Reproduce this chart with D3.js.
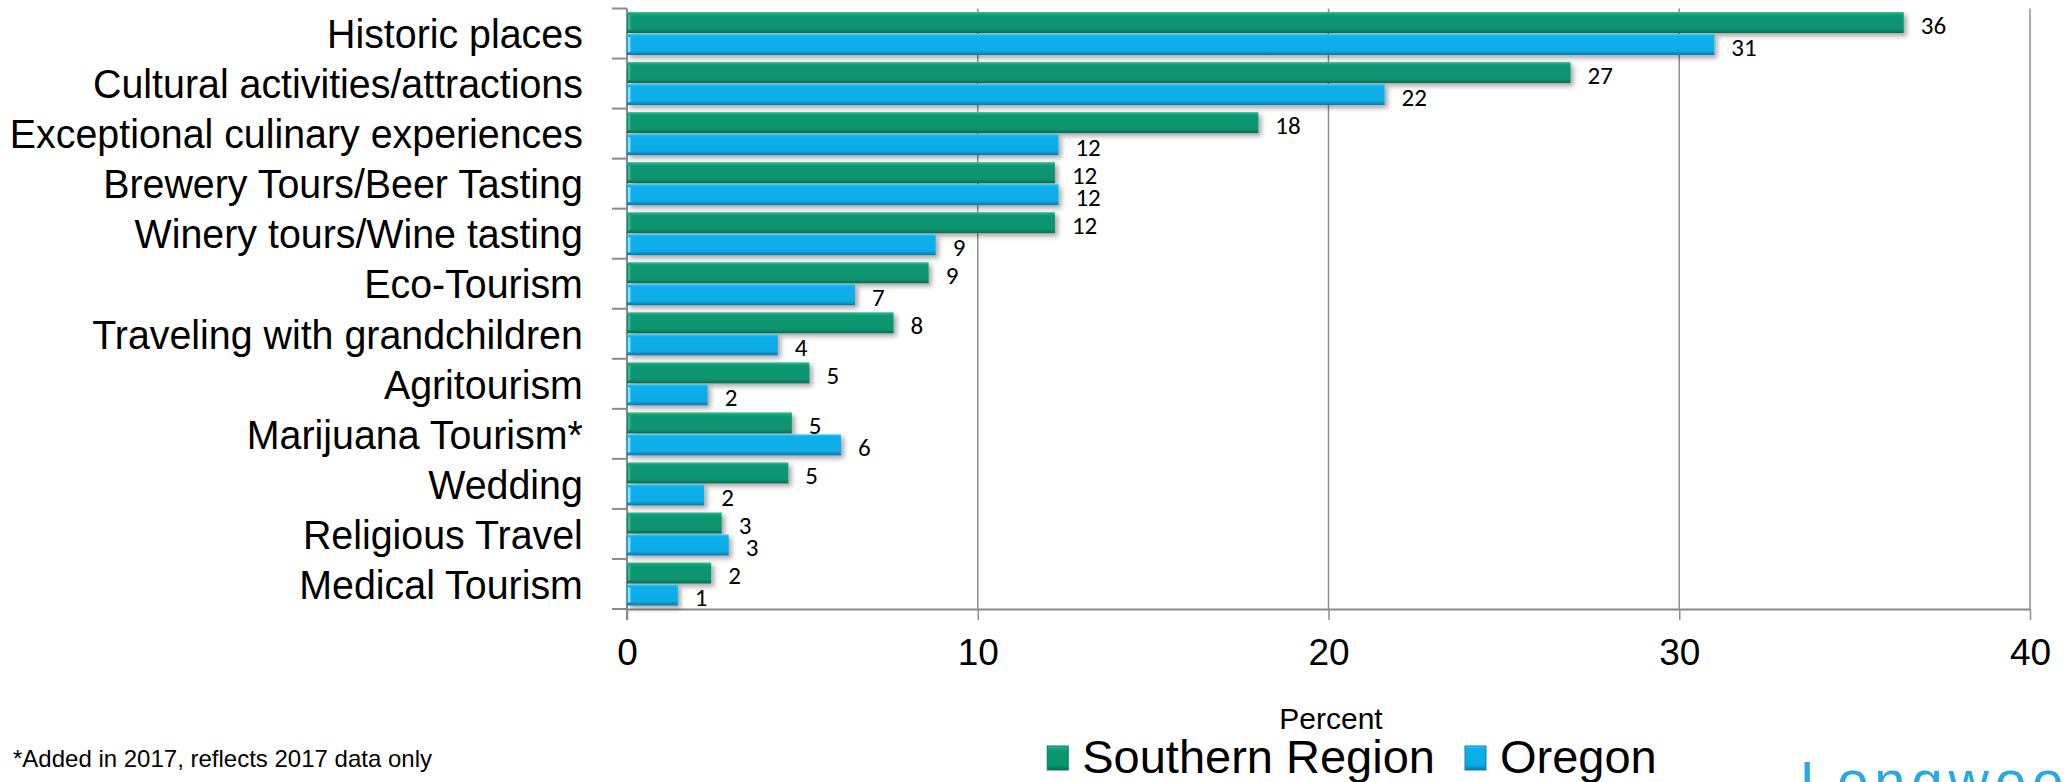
<!DOCTYPE html>
<html>
    <head>
    <title>Special interest travel</title>
    <script src="https://d3js.org/d3.v7.min.js"></script>
    <style>
        body { margin: 0; background: #fff; }
        text { font-family: "Liberation Sans", Arial, sans-serif; }
    </style>
    </head>
    <body>
        <div id="my_dataviz"></div>
    </body>

    <script>
        // chart data
        var categories = ["Historic places", "Cultural activities/attractions", "Exceptional culinary experiences",
            "Brewery Tours/Beer Tasting", "Winery tours/Wine tasting", "Eco-Tourism", "Traveling with grandchildren",
            "Agritourism", "Marijuana Tourism*", "Wedding", "Religious Travel", "Medical Tourism"]
        var series = ["Southern Region", "Oregon"]
        var southernRegion = [36.4, 26.9, 18.0, 12.2, 12.2, 8.6, 7.6, 5.2, 4.7, 4.6, 2.7, 2.4]
        var oregon = [31.0, 21.6, 12.3, 12.3, 8.8, 6.5, 4.3, 2.3, 6.1, 2.2, 2.9, 1.45]
        var xTicks = [0, 10, 20, 30, 40]
        var footnote = "*Added in 2017, reflects 2017 data only"

        var colors = { "Southern Region": "green", "Oregon": "blue" }

        // margins , width and height of the plot area
        var margin = { top: 8.5, right: 38, bottom: 173, left: 627 },
            width = 2068 - margin.left - margin.right,
            height = 782 - margin.top - margin.bottom

        var root = d3.select("#my_dataviz")
            .append("svg")
            .attr("width", 2068)
            .attr("height", 782)

        // gradients + shadow for the bevelled bars
        var defs = root.append("defs")
        var grads = {
            green: [["0%", "#3cc197"], ["10%", "#13a27c"], ["22%", "#0a9672"], ["80%", "#0a9470"], ["90%", "#08805f"], ["100%", "#0a6a51"]],
            blue: [["0%", "#48c9f5"], ["10%", "#0db2ee"], ["22%", "#08aeea"], ["80%", "#08ace8"], ["90%", "#0a90c4"], ["100%", "#0a76a3"]]
        }
        Object.keys(grads).forEach(function (k) {
            var g = defs.append("linearGradient").attr("id", "grad-" + k)
                .attr("x1", 0).attr("y1", 0).attr("x2", 0).attr("y2", 1)
            grads[k].forEach(function (s) {
                g.append("stop").attr("offset", s[0]).attr("stop-color", s[1])
            })
        })
        defs.append("filter").attr("id", "shadow")
            .attr("x", "-5%").attr("y", "-30%").attr("width", "115%").attr("height", "180%")
            .append("feDropShadow")
            .attr("dx", 3).attr("dy", 3).attr("stdDeviation", 2.5)
            .attr("flood-color", "#000").attr("flood-opacity", 0.35)

        var svg = root.append("g")
            .attr("transform", "translate(" + margin.left + "," + margin.top + ")")

        // scales
        var x = d3.scaleLinear()
            .domain([0, 40])
            .range([0, width])

        var y = d3.scaleBand()
            .domain(categories)
            .range([0, height])

        var ySub = d3.scaleBand()
            .domain(series)
            .range([0, y.bandwidth()])
            .paddingInner(0.045)
            .paddingOuter(0.16)

        // vertical gridlines
        svg.selectAll(".grid")
            .data(xTicks.slice(1))
            .enter().append("line")
            .attr("class", "grid")
            .attr("x1", function (d) { return x(d); })
            .attr("x2", function (d) { return x(d); })
            .attr("y1", 0)
            .attr("y2", height)
            .attr("stroke", "#8f8f8f")
            .attr("stroke-width", 1.5)

        // x axis
        var xAxis = svg.append("g")
            .attr("transform", "translate(0," + height + ")")
            .call(d3.axisBottom(x).tickValues(xTicks).tickSize(11).tickSizeOuter(0).tickPadding(19))
        xAxis.select(".domain").attr("stroke", "#8a8a8a").attr("stroke-width", 2)
        xAxis.selectAll(".tick line").attr("stroke", "#8f8f8f").attr("stroke-width", 1.5)
        xAxis.selectAll(".tick text")
            .style("font-family", "'Liberation Sans', Arial, sans-serif")
            .style("font-size", "37px")
            .attr("fill", "#000")

        // y axis : labels only, line and boundary ticks drawn below
        // labels are a little condensed in the original, so squeeze them
        var yAxis = svg.append("g")
            .call(d3.axisLeft(y).tickSize(0).tickPadding(46))
        yAxis.select(".domain").remove()
        yAxis.selectAll(".tick text")
            .attr("dy", "0.36em")
            .attr("transform", "scale(0.96,1)")
            .style("font-family", "'Liberation Sans', Arial, sans-serif")
            .style("font-size", "41px")
            .attr("fill", "#000")

        svg.append("line")
            .attr("x1", 0).attr("x2", 0)
            .attr("y1", 0).attr("y2", height + 11)
            .attr("stroke", "#8a8a8a")
            .attr("stroke-width", 2)

        var bounds = categories.map(function (c) { return y(c); }).concat([height])
        svg.selectAll(".ytick")
            .data(bounds)
            .enter().append("line")
            .attr("class", "ytick")
            .attr("x1", -15).attr("x2", 0)
            .attr("y1", function (d) { return d; })
            .attr("y2", function (d) { return d; })
            .attr("stroke", "#8a8a8a")
            .attr("stroke-width", 2)

        // bars
        var rows = categories.map(function (c, i) {
            return { cat: c, values: [
                { key: "Southern Region", value: southernRegion[i] },
                { key: "Oregon", value: oregon[i] }] }
        })

        var groups = svg.selectAll(".row")
            .data(rows)
            .enter().append("g")
            .attr("class", "row")
            .attr("transform", function (d) { return "translate(0," + y(d.cat) + ")"; })

        var bars = groups.selectAll(".bar")
            .data(function (d) { return d.values; })
            .enter().append("g")
            .attr("class", "bar")

        bars.append("rect")
            .attr("x", x(0))
            .attr("y", function (d) { return ySub(d.key); })
            .attr("width", function (d) { return x(d.value) - x(0); })
            .attr("height", ySub.bandwidth())
            .attr("fill", function (d) { return "url(#grad-" + colors[d.key] + ")"; })
            .attr("filter", "url(#shadow)")

        // thin light edge on the left of each bar
        bars.append("rect")
            .attr("x", x(0) + 1)
            .attr("y", function (d) { return ySub(d.key) + 3; })
            .attr("width", 2.5)
            .attr("height", ySub.bandwidth() - 6)
            .attr("fill", function (d) { return colors[d.key] == "blue" ? "#7ee6ff" : "#2fb78f"; })

        // value labels
        bars.append("text")
            .attr("x", function (d) { return x(d.value) + 17; })
            .attr("y", function (d) { return ySub(d.key) + ySub.bandwidth() + 0.5; })
            .style("font-family", "Carlito, Lato, sans-serif")
            .style("font-size", "25px")
            .text(function (d) { return d3.format(".0f")(d.value); })

        // axis title
        root.append("text")
            .attr("x", 1331)
            .attr("y", 729)
            .attr("text-anchor", "middle")
            .style("font-size", "30px")
            .text("Percent")

        // legend
        var legend = root.append("g")
        var lx = 0
        series.forEach(function (s, i) {
            var item = legend.append("g").attr("transform", "translate(" + lx + ",0)")
            item.append("rect")
                .attr("x", 0).attr("y", 746)
                .attr("width", 21).attr("height", 24)
                .attr("fill", "url(#grad-" + colors[s] + ")")
                .attr("stroke", colors[s] == "blue" ? "#0a84b5" : "#087a5c")
                .attr("stroke-width", 1)
            var t = item.append("text")
                .attr("x", 35).attr("y", 773)
                .style("font-size", "47px")
                .text(s)
            lx += 35 + t.node().getComputedTextLength() + 30
        })
        var lw = lx - 30
        legend.attr("transform", "translate(" + (1352 - lw / 2) + ",0)")

        // footnote
        root.append("text")
            .attr("x", 13)
            .attr("y", 767)
            .style("font-size", "24px")
            .text(footnote)

        // logo, cut off at the bottom edge
        root.append("text")
            .attr("x", 1800)
            .attr("y", 800)
            .style("font-size", "56px")
            .style("letter-spacing", "6px")
            .attr("fill", "#2aa9e0")
            .text("Longwoods")
    </script>
</html>
